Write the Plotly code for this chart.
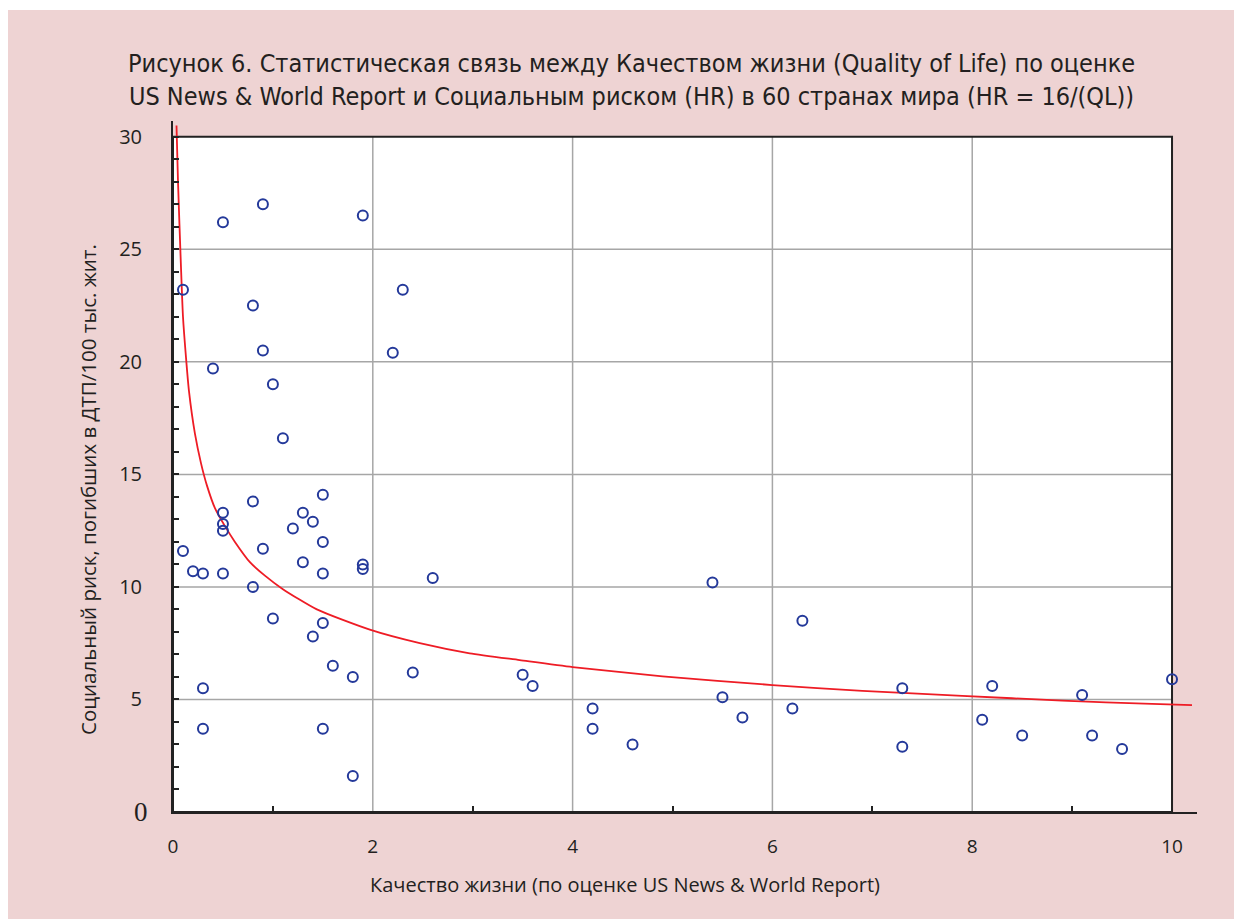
import plotly.graph_objects as go

# ---- data ----
ql = [0.1, 0.1, 0.2, 0.3, 0.3, 0.3, 0.4, 0.5, 0.5, 0.5, 0.5, 0.5, 0.8, 0.8, 0.8,
      0.9, 0.9, 0.9, 1.0, 1.0, 1.1, 1.2, 1.3, 1.3, 1.4, 1.4, 1.5, 1.5, 1.5, 1.5,
      1.5, 1.6, 1.8, 1.8, 1.9, 1.9, 1.9, 2.2, 2.3, 2.4, 2.6, 3.5, 3.6, 4.2, 4.2,
      4.6, 5.4, 5.5, 5.7, 6.2, 6.3, 7.3, 7.3, 8.1, 8.2, 8.5, 9.1, 9.2, 9.5, 10.0]
hr = [23.2, 11.6, 10.7, 10.6, 5.5, 3.7, 19.7, 26.2, 13.3, 12.8, 12.5, 10.6, 22.5, 13.8, 10.0,
      27.0, 20.5, 11.7, 19.0, 8.6, 16.6, 12.6, 13.3, 11.1, 12.9, 7.8, 14.1, 12.0, 10.6, 8.4,
      3.7, 6.5, 6.0, 1.6, 26.5, 11.0, 10.8, 20.4, 23.2, 6.2, 10.4, 6.1, 5.6, 4.6, 3.7,
      3.0, 10.2, 5.1, 4.2, 4.6, 8.5, 5.5, 2.9, 4.1, 5.6, 3.4, 5.2, 3.4, 2.8, 5.9]

fit_x = [0.035, 0.05, 0.08, 0.10, 0.13, 0.16, 0.22, 0.28, 0.34, 0.42, 0.52, 0.62, 0.77, 0.92,
         1.1, 1.44, 1.97, 2.47, 2.97, 3.47, 4.0, 4.9, 6.0, 6.9, 7.9, 8.9, 9.8, 10.2]
fit_y = [30.5, 28.0, 24.2, 22.0, 20.2, 18.7, 16.8, 15.5, 14.5, 13.5, 12.7, 12.0, 11.1, 10.5,
         9.9, 9.0, 8.1, 7.5, 7.05, 6.75, 6.44, 6.03, 5.64, 5.38, 5.16, 4.95, 4.8, 4.75]

x_ticks = [0, 2, 4, 6, 8, 10]
y_ticks = [5, 10, 15, 20, 25, 30]
x_minor = [1, 3, 5, 7, 9]
x_grid = [2, 4, 6, 8]
y_grid = [5, 10, 15, 20, 25]

title = ("Рисунок 6. Статистическая связь между Качеством жизни (Quality of Life) по оценке<br>"
         "US News & World Report и Социальным риском (HR) в 60 странах мира (HR = 16/(QL))")
x_title = "Качество жизни (по оценке US News & World Report)"
y_title = "Социальный риск, погибших в ДТП/100 тыс. жит."

# ---- layout geometry (page has an 8px body margin) ----
OFF = 8
W, H = 1242, 919
ML, MR, MT, MB = 165, 53, 113, 115
PW, PH = W - ML - MR, H - MT - MB
X_MAX, Y_MAX = 10.0, 30.0
X_RANGE = [0, 10.25]
Y_RANGE = [0, 30.7]

def px(x):  # page x pixel -> paper fraction
    return (x - OFF - ML) / PW

def py(y):  # page y pixel -> paper fraction
    return (H - MB - (y - OFF)) / PH

PINK = "#eed3d3"
BLUE = "#24399a"
RED = "#ee1c25"
SANS = "Open Sans, Noto Sans, sans-serif"

fig = go.Figure()

fig.add_trace(go.Scatter(
    x=fit_x, y=fit_y, mode="lines",
    line=dict(color=RED, width=1.8, shape="spline", smoothing=0.6),
    hoverinfo="skip", showlegend=False, cliponaxis=False))

fig.add_trace(go.Scatter(
    x=ql, y=hr, mode="markers",
    marker=dict(symbol="circle-open", size=10, color=BLUE, line=dict(width=2, color=BLUE)),
    showlegend=False, cliponaxis=False))

shapes = []
# white outer border strip at top
shapes.append(dict(type="rect", xref="paper", yref="paper", x0=px(0), x1=px(W + 20), y0=py(10), y1=py(0),
                   fillcolor="white", line=dict(width=0), layer="below"))
# white plot area
shapes.append(dict(type="rect", xref="x", yref="y", x0=0, x1=X_MAX, y0=0, y1=Y_MAX,
                   fillcolor="white", line=dict(width=0), layer="below"))
for g in x_grid:
    shapes.append(dict(type="line", xref="x", yref="y", x0=g, x1=g, y0=0, y1=Y_MAX,
                       line=dict(color="#a6a6a6", width=1.5), layer="below"))
for g in y_grid:
    shapes.append(dict(type="line", xref="x", yref="y", x0=0, x1=X_MAX, y0=g, y1=g,
                       line=dict(color="#a6a6a6", width=1.5), layer="below"))
shapes.append(dict(type="rect", xref="x", yref="y", x0=0, x1=X_MAX, y0=0, y1=Y_MAX,
                   fillcolor="rgba(0,0,0,0)", line=dict(color="#222222", width=2), layer="below"))

annotations = [
    dict(text=title, xref="paper", yref="paper", x=px(631), y=py(80), xanchor="center", yanchor="middle",
         showarrow=False, align="center",
         font=dict(family="Liberation Sans Narrow, DejaVu Sans Condensed, sans-serif", size=25, color="#231f20")),
    dict(text=x_title, xref="paper", yref="paper", x=px(625), y=py(884), xanchor="center", yanchor="middle",
         showarrow=False, font=dict(family=SANS, size=20, color="#231f20")),
    dict(text=y_title, xref="paper", yref="paper", x=px(88), y=py(490), xanchor="center", yanchor="middle",
         showarrow=False, textangle=-90, font=dict(family=SANS, size=20.5, color="#231f20")),
    dict(text="0", xref="paper", yref="y", x=px(141), y=0, xanchor="center", yanchor="middle",
         showarrow=False, font=dict(family="Liberation Serif, DejaVu Serif, serif", size=27, color="#231f20")),
]

fig.update_layout(
    width=W, height=H,
    margin=dict(l=ML, r=MR, t=MT, b=MB),
    paper_bgcolor=PINK, plot_bgcolor=PINK,
    shapes=shapes, annotations=annotations,
    showlegend=False,
    font=dict(family=SANS, color="#231f20"),
)
fig.update_xaxes(
    range=X_RANGE, tickvals=x_ticks, ticktext=[str(v) for v in x_ticks],
    showgrid=False, zeroline=False, showline=True, linecolor="#222222", linewidth=2,
    ticks="inside", ticklen=0, tickcolor="#222222",
    minor=dict(tickvals=x_minor, ticks="inside", ticklen=6, tickcolor="#222222", tickwidth=1.5, showgrid=False),
    tickfont=dict(family=SANS, size=19, color="#231f20"), ticklabelstandoff=16,
)
fig.update_yaxes(
    range=Y_RANGE, tickvals=y_ticks, ticktext=[str(v) for v in y_ticks],
    showgrid=False, zeroline=False, showline=True, linecolor="#222222", linewidth=2,
    ticks="inside", ticklen=6, tickcolor="#222222", tickwidth=1.5,
    minor=dict(dtick=1, ticks="inside", ticklen=6, tickcolor="#222222", tickwidth=1.5, showgrid=False),
    tickfont=dict(family=SANS, size=20, color="#231f20"), ticklabelstandoff=25,
)

fig.write_html("out.html")
